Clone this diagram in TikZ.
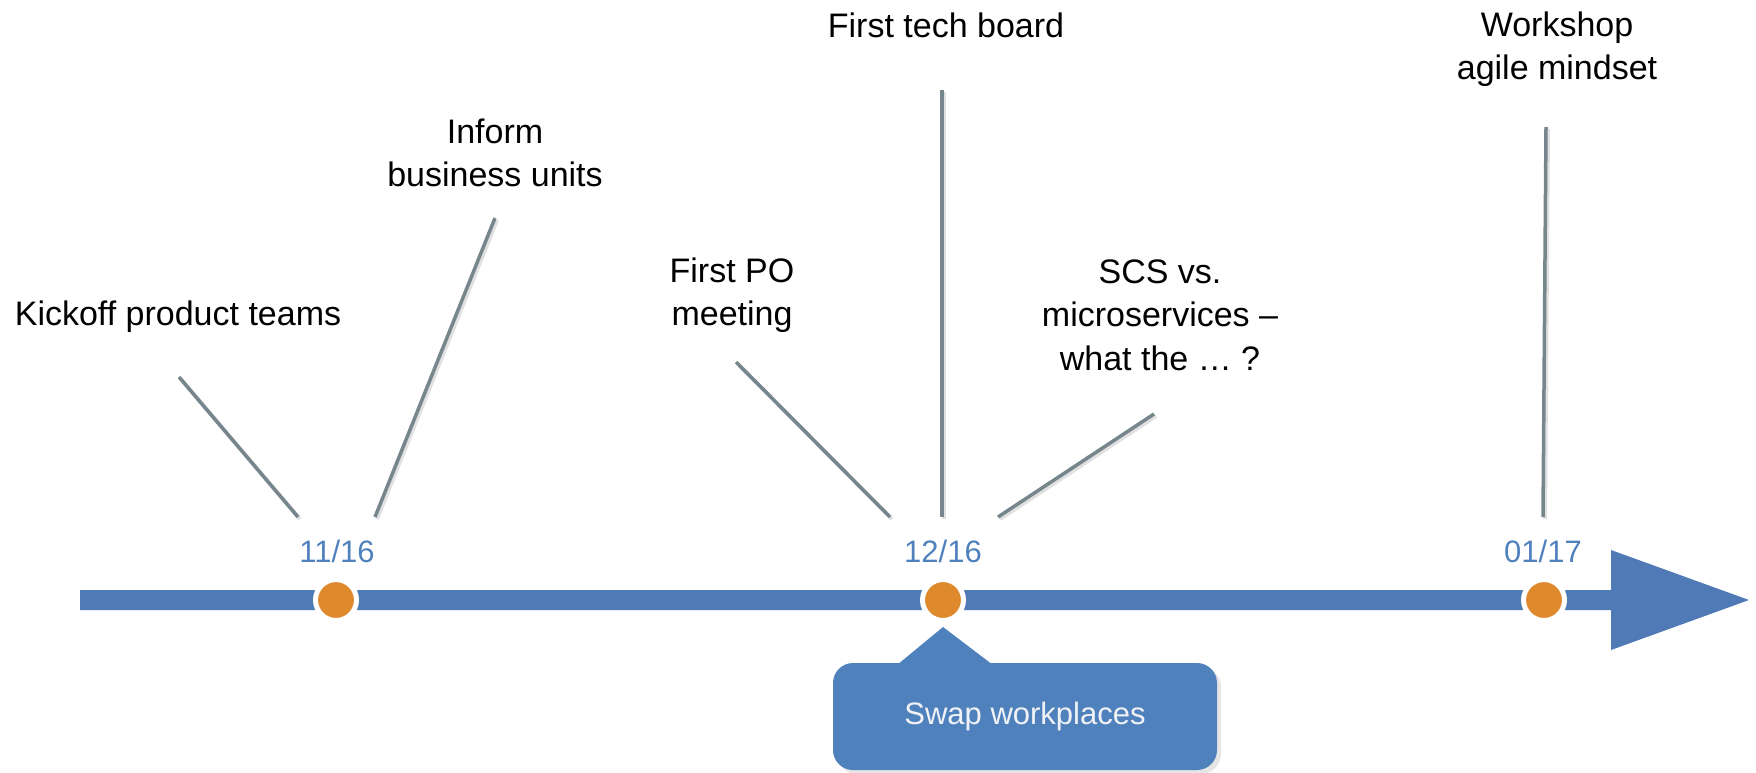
\documentclass[tikz,border=0pt]{standalone}
\usepackage{fontspec}
\setmainfont{Liberation Sans}
\definecolor{barblue}{RGB}{80,122,182}
\definecolor{dateblue}{RGB}{79,129,189}
\definecolor{dotorange}{RGB}{221,137,44}
\definecolor{stemgray}{RGB}{118,134,140}
\definecolor{callblue}{RGB}{79,129,189}
\definecolor{calltext}{RGB}{240,242,246}
\begin{document}
\begin{tikzpicture}[x=1pt,y=-1pt,
  evt/.style={align=center,font=\fontsize{34}{43.5}\selectfont,text=black,inner sep=0pt},
  datelbl/.style={font=\fontsize{31}{36}\selectfont,text=dateblue,inner sep=0pt},
  stem/.style={draw=stemgray,line width=3.5pt},
  stemshadow/.style={draw=black!12,line width=4pt},
  dot/.style={circle,fill=dotorange,draw=white,line width=5pt,minimum size=41pt,inner sep=0pt},
  callbox/.style={fill=callblue,rounded corners=20pt,minimum width=384pt,minimum height=107pt,
    text=calltext,font=\fontsize{31}{36}\selectfont,inner sep=0pt}
]
\useasboundingbox (0,0) rectangle (1756,772);

% timeline bar with arrowhead
\fill[barblue] (80,590) -- (1611,590) -- (1611,550) -- (1749,600) -- (1611,650) -- (1611,610) -- (80,610) -- cycle;

% milestone dots
\node[dot] (d1) at (336,600) {};
\node[dot] (d2) at (943,600) {};
\node[dot] (d3) at (1544,600) {};

% dates
\node[datelbl] (l1) at (337,551) {11/16};
\node[datelbl] (l2) at (943,551) {12/16};
\node[datelbl] (l3) at (1543,551) {01/17};

% event labels
\node[evt] (kick) at (178,317) {Kickoff product teams};
\node[evt] (inform) at (495,153) {Inform\\business units};
\node[evt] (po) at (732,295) {First PO\\meeting};
\node[evt] (tech) at (946,25) {First tech board};
\node[evt] (scs) at (1160,315) {SCS vs.\\microservices –\\what the … ?};
\node[evt] (ws) at (1557,49) {Workshop\\agile mindset};

% stem end points
\coordinate (k1) at (179,377);  \coordinate (k2) at (298,517);
\coordinate (i1) at (495,218);  \coordinate (i2) at (375,517);
\coordinate (p1) at (736,362);  \coordinate (p2) at (890,517);
\coordinate (t1) at (942,90);   \coordinate (t2) at (942,517);
\coordinate (s1) at (1154,414); \coordinate (s2) at (998,517);
\coordinate (w1) at (1546,127); \coordinate (w2) at (1543,517);

\foreach \a/\b in {k1/k2,i1/i2,p1/p2,t1/t2,s1/s2,w1/w2}{
  \draw[stemshadow] ([shift={(2,2)}]\a) -- ([shift={(2,2)}]\b);
  \draw[stem] (\a) -- (\b);
}

% callout
\fill[black!10,rounded corners=20pt] (837,667) rectangle (1221,774);
\node[callbox] (swap) at (1025,716.5) {Swap workplaces};
\coordinate (ptip) at (943,627);
\coordinate (pl) at (897,665);
\coordinate (pr) at (993,665);
\fill[callblue] (ptip) -- (pr) -- (pl) -- cycle;
\end{tikzpicture}
\end{document}
